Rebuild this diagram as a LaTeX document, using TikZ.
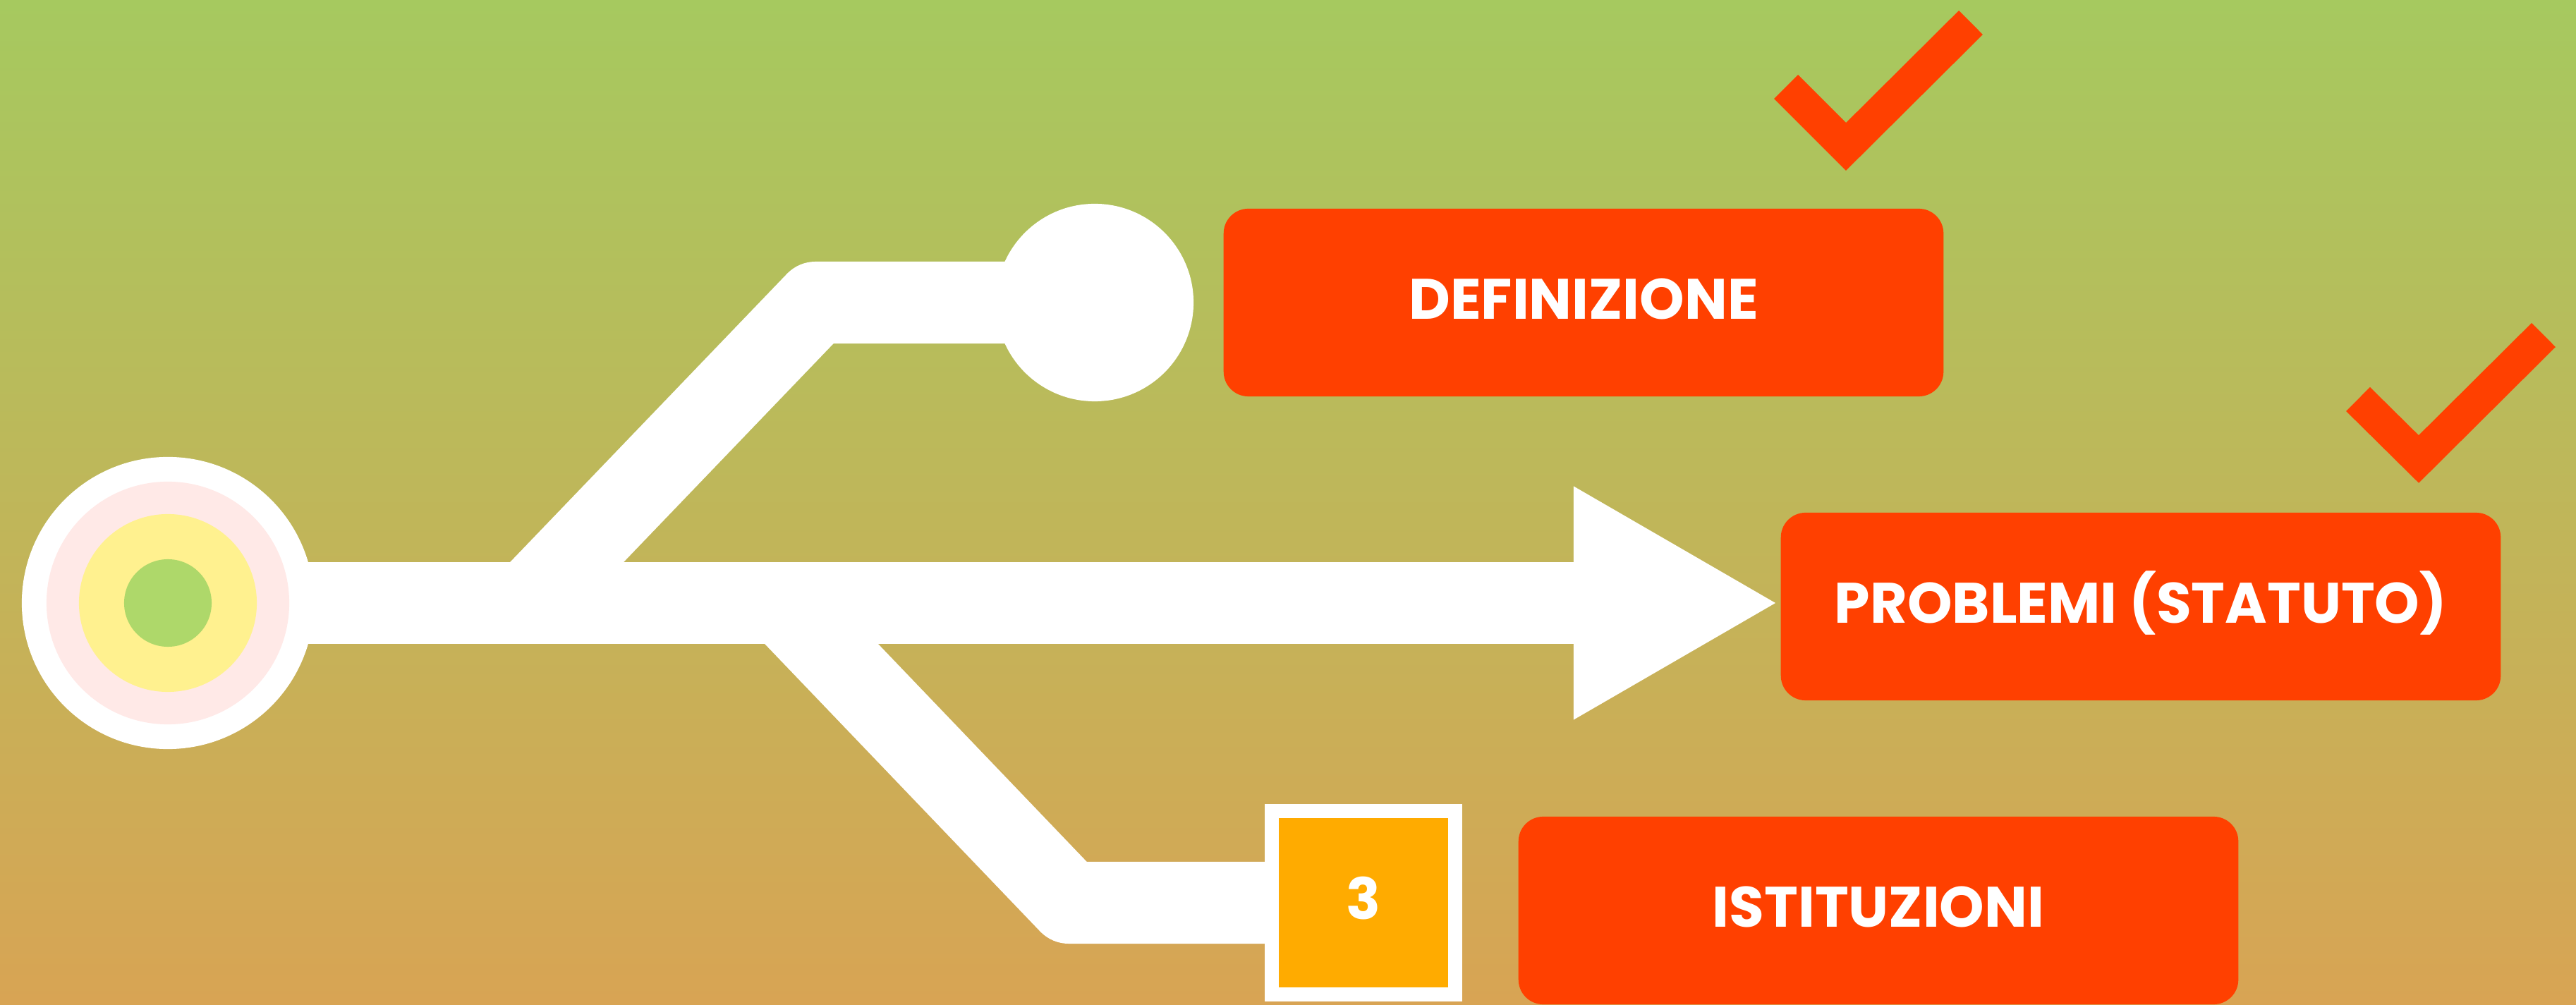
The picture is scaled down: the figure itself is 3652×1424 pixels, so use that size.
\documentclass[tikz,border=0pt]{standalone}
\usepackage{fontspec}
\setmainfont{Poppins}
\usetikzlibrary{arrows.meta}

\definecolor{bgtop}{HTML}{A6C95F}
\definecolor{bgbot}{HTML}{D8A454}
\definecolor{boxred}{HTML}{FF4000}
\definecolor{boxorange}{HTML}{FFAB00}
\definecolor{ringpink}{HTML}{FFE9E7}
\definecolor{ringyellow}{HTML}{FFF18F}
\definecolor{ringgreen}{HTML}{AED86A}

\newcommand{\labelfont}{\fontsize{23pt}{27pt}\selectfont\bfseries}

\pgfdeclarelayer{bg}
\pgfdeclarelayer{bars}
\pgfsetlayers{bg,bars,main}

\tikzset{
    bar/.style={white,line width=1.16cm,line join=round},
    labelbox/.style={fill=boxred,rounded corners=0.35cm,minimum width=10.2cm,
        minimum height=2.66cm,inner sep=0pt,text=white,font=\labelfont,
        text height=0.56cm,text depth=0.09cm},
    tick/.style={boxred,line width=0.48cm,line join=miter},
}

\begin{document}
\begin{tikzpicture}[x=0.01cm,y=0.01cm]
        % Hintergrund
        \begin{pgfonlayer}{bg}
            \shade[top color=bgtop,bottom color=bgbot] (0,0) rectangle (3652,1424);
        \end{pgfonlayer}
        \useasboundingbox (0,0) rectangle (3652,1424);
        % Ziel
        \node[circle,fill=white,minimum size=4.14cm,inner sep=0pt] (target) at (238,569) {};
        \fill[ringpink] (target.center) circle (1.72cm);
        \fill[ringyellow] (target.center) circle (1.26cm);
        \fill[ringgreen] (target.center) circle (0.62cm);
        % Endpunkte
        \node[circle,fill=white,minimum size=2.8cm,inner sep=0pt] (defdot) at (1552,995) {};
        \node[draw=white,fill=boxorange,line width=0.2cm,minimum size=2.59cm,inner sep=0pt,
              text=white,font=\labelfont,text height=0.56cm,text depth=0.09cm] (three) at (1933,144) {3};
        \coordinate (tip) at (2517,569);
        \coordinate (upjoin) at (748,569);
        \coordinate (upbend) at (1157,995);
        \coordinate (lowjoin) at (1109,569);
        \coordinate (lowbend) at (1516,144);
        % Wege
        \begin{pgfonlayer}{bars}
            \draw[bar,-{Triangle[length=2.86cm,width=3.31cm,line width=0pt]}] (target.center) -- (tip);
            \draw[bar] (upjoin) -- (upbend) -- (defdot.center);
            \draw[bar] (lowjoin) -- (lowbend) -- (three.center);
        \end{pgfonlayer}
        % Kästen
        \node[labelbox] (def) at (2245,995) {DEFINIZIONE};
        \node[labelbox] (prob) at (3035,564) {PROBLEMI (STATUTO)};
        \node[labelbox] (ist) at (2663,133) {ISTITUZIONI};
        % Haken
        \draw[tick] (2532,1301) -- (2617,1216) -- (2794,1392);
        \draw[tick] (3343,858) -- (3429,773) -- (3606,949);
    \end{tikzpicture}
\end{document}
